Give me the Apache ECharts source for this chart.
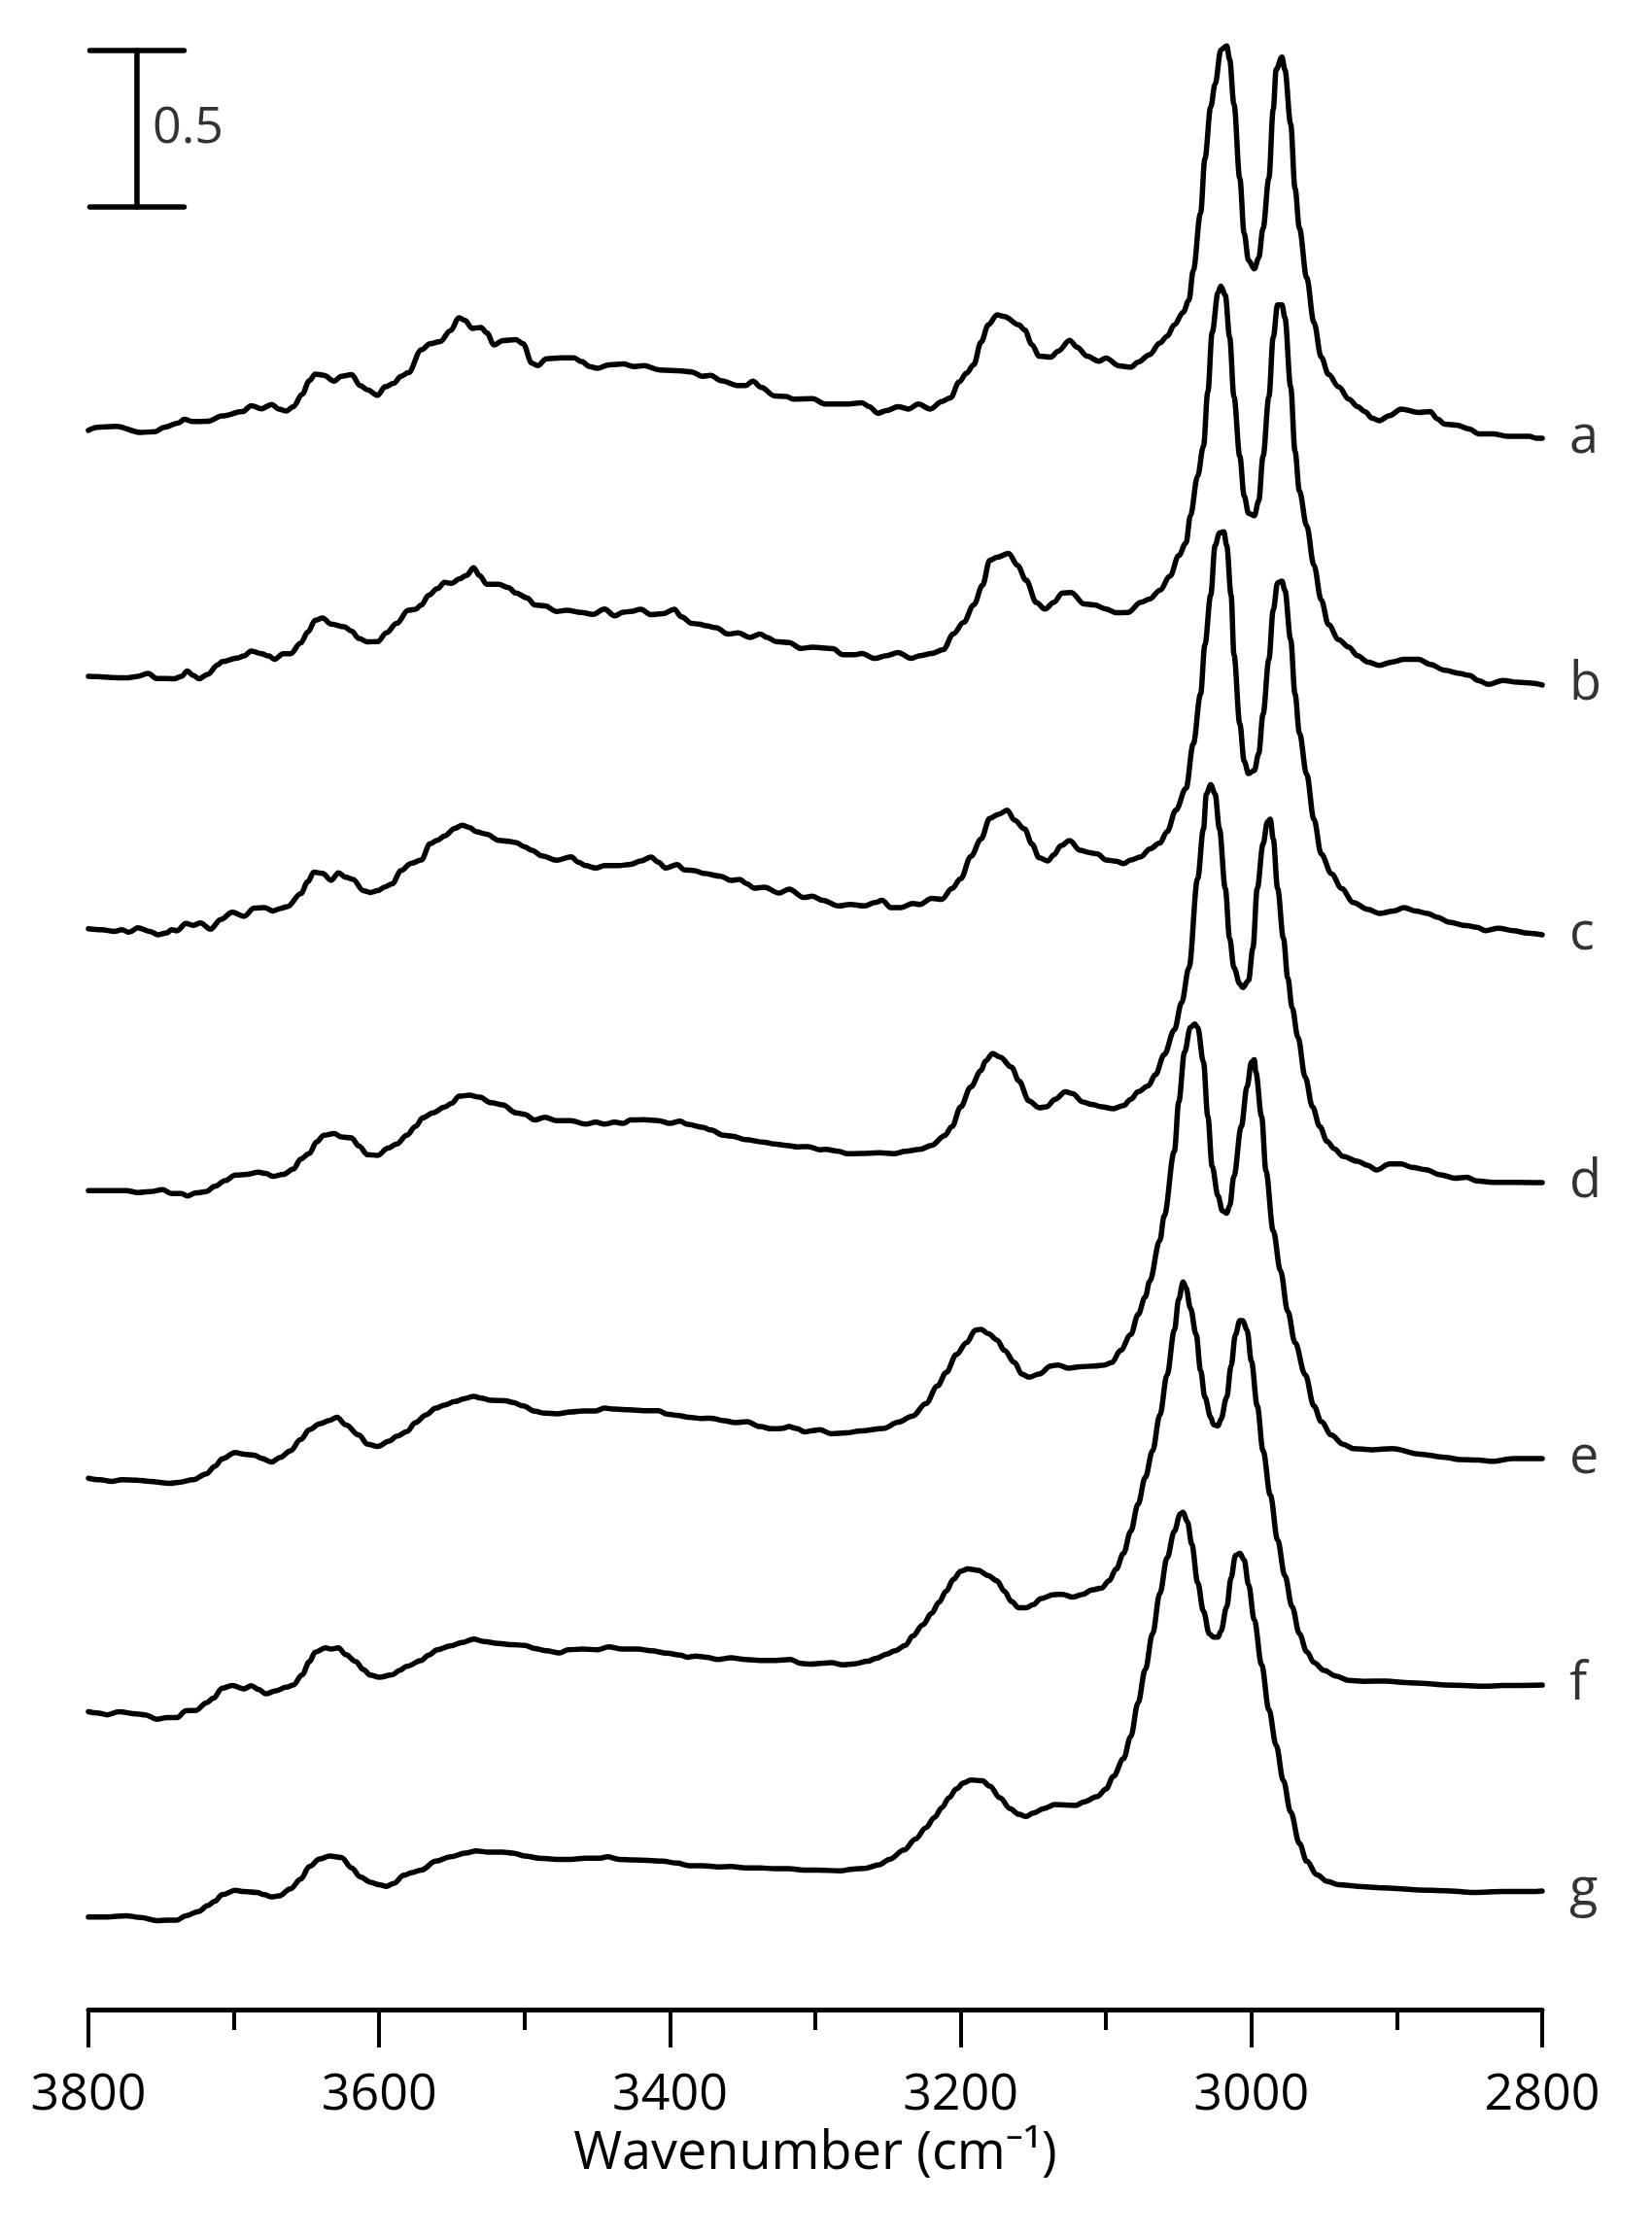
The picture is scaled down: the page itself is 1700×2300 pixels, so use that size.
<!DOCTYPE html>
<html>
<head>
<meta charset="utf-8">
<script src="https://cdn.jsdelivr.net/npm/echarts@6/dist/echarts.min.js"></script>
<style>
  html, body { margin: 0; padding: 0; background: #fff; }
  #chart { width: 1700px; height: 2300px; }
</style>
</head>
<body>
<div id="chart"></div>
<script>
// ---- data: wavenumber (cm-1), absorbance relative to each trace's 2800 cm-1 baseline ----
const seriesNames = ['a', 'b', 'c', 'd', 'e', 'f', 'g'];
const offsets = [5.022, 4.233, 3.435, 2.643, 1.761, 1.037, 0.379];

const specA = [[3800,.025],[3794,.035],[3781,.038],[3764,.018],[3754,.021],[3748,.035],[3738,.049],[3734,.060],[3728,.053],[3718,.054],[3708,.071],[3694,.085],[3688,.104],[3681,.094],[3674,.108],[3669,.093],[3664,.087],[3659,.101],[3653,.140],[3648,.184],[3644,.205],[3638,.201],[3631,.182],[3626,.198],[3619,.203],[3613,.168],[3608,.154],[3601,.137],[3596,.164],[3590,.175],[3585,.198],[3580,.209],[3571,.282],[3565,.302],[3558,.309],[3551,.344],[3545,.385],[3541,.376],[3536,.351],[3530,.354],[3526,.337],[3521,.298],[3515,.312],[3506,.315],[3501,.302],[3495,.240],[3491,.232],[3485,.254],[3475,.257],[3466,.257],[3461,.245],[3455,.229],[3450,.223],[3442,.234],[3432,.237],[3425,.229],[3418,.232],[3407,.218],[3392,.215],[3385,.212],[3378,.198],[3372,.201],[3365,.184],[3353,.168],[3348,.168],[3343,.182],[3337,.162],[3328,.135],[3320,.133],[3315,.125],[3302,.126],
[3293,.109],[3279,.109],[3268,.113],[3263,.101],[3257,.080],[3251,.088],[3243,.101],[3236,.093],[3229,.109],[3221,.093],[3213,.117],[3207,.129],[3201,.180],[3196,.208],[3191,.235],[3186,.307],[3181,.362],[3175,.394],[3170,.389],[3160,.362],[3156,.346],[3151,.299],[3146,.262],[3138,.259],[3133,.278],[3125,.313],[3120,.291],[3113,.262],[3105,.246],[3100,.256],[3091,.231],[3083,.227],[3078,.243],[3070,.267],[3063,.304],[3058,.326],[3053,.362],[3047,.402],[3043,.441],[3040,.536],[3035,.719],[3032,.893],[3028,1.059],[3025,1.131],[3021,1.241],[3017,1.254],[3015,1.210],[3012,1.067],[3008,.830],[3005,.655],[3002,.568],[2998,.541],[2995,.576],[2992,.671],[2988,.830],[2985,1.051],[2983,1.178],[2979,1.218],[2977,1.178],[2973,1.004],[2970,.798],[2967,.671],[2962,.513],[2957,.370],[2952,.259],[2947,.204],[2940,.164],[2933,.125],[2927,.101],[2922,.085],[2917,.064],[2912,.056],[2905,.072],[2897,.093],[2885,.082],[2877,.085],[2872,.061],[2867,.045],[2859,.042],[2850,.029],[2844,.014],[2834,.014],[2824,.006],[2809,.006],[2804,0],[2800,0]];

const specB = [[3800,.028],[3794,.027],[3784,.024],[3774,.023],[3767,.027],[3759,.037],[3753,.021],[3741,.020],[3736,.028],[3732,.045],[3728,.031],[3724,.020],[3718,.034],[3711,.064],[3708,.075],[3698,.086],[3693,.093],[3688,.109],[3681,.100],[3676,.093],[3672,.082],[3666,.100],[3661,.100],[3654,.134],[3649,.170],[3644,.207],[3639,.214],[3633,.195],[3624,.186],[3619,.172],[3614,.149],[3608,.138],[3601,.139],[3595,.167],[3588,.197],[3580,.239],[3575,.242],[3571,.256],[3566,.287],[3560,.308],[3555,.328],[3550,.325],[3545,.339],[3540,.350],[3535,.375],[3531,.350],[3526,.322],[3518,.322],[3511,.311],[3506,.294],[3498,.278],[3493,.256],[3486,.253],[3478,.235],[3471,.239],[3461,.232],[3453,.226],[3445,.243],[3438,.221],[3432,.233],[3427,.235],[3420,.242],[3413,.225],[3405,.228],[3397,.242],[3392,.218],[3385,.197],[3380,.195],[3375,.189],[3368,.183],[3360,.163],[3353,.167],[3345,.152],[3338,.163],[3333,.152],[3327,.139],[3318,.136],[3310,.117],[3302,.121],
[3288,.116],[3281,.097],[3273,.097],[3268,.101],[3259,.085],[3251,.094],[3243,.104],[3234,.085],[3228,.094],[3220,.101],[3212,.113],[3205,.164],[3198,.200],[3191,.256],[3185,.319],[3180,.399],[3175,.408],[3167,.421],[3161,.383],[3155,.335],[3148,.264],[3142,.243],[3136,.264],[3130,.294],[3124,.296],[3115,.259],[3108,.256],[3100,.243],[3093,.231],[3085,.232],[3076,.265],[3070,.275],[3063,.303],[3056,.348],[3050,.414],[3045,.454],[3042,.541],[3037,.668],[3033,.763],[3030,.937],[3027,1.127],[3023,1.254],[3021,1.275],[3018,1.246],[3015,1.112],[3012,.921],[3008,.731],[3005,.605],[3002,.549],[2998,.541],[2995,.589],[2992,.731],[2988,.921],[2985,1.112],[2982,1.215],[2979,1.215],[2977,1.175],[2973,.953],[2970,.747],[2967,.620],[2962,.509],[2957,.383],[2952,.272],[2947,.193],[2940,.145],[2933,.121],[2927,.094],[2920,.074],[2912,.063],[2903,.074],[2895,.082],[2885,.082],[2877,.066],[2867,.047],[2857,.037],[2850,.031],[2844,.015],[2837,.002],[2827,.015],[2817,.009],[2807,.006],[2800,0]];

const specC = [[3800,.019],[3791,.016],[3782,.011],[3777,.016],[3772,.008],[3766,.022],[3758,.011],[3752,.000],[3746,.006],[3743,.016],[3739,.013],[3733,.036],[3728,.030],[3723,.038],[3716,.018],[3709,.049],[3701,.072],[3693,.059],[3686,.085],[3679,.087],[3673,.076],[3668,.084],[3663,.090],[3654,.131],[3649,.170],[3645,.200],[3639,.196],[3633,.174],[3628,.198],[3623,.184],[3618,.177],[3611,.141],[3606,.135],[3601,.141],[3596,.153],[3591,.163],[3585,.205],[3578,.228],[3571,.239],[3565,.291],[3560,.302],[3555,.316],[3548,.340],[3543,.350],[3538,.343],[3533,.329],[3526,.321],[3518,.302],[3511,.299],[3506,.295],[3500,.281],[3495,.270],[3488,.252],[3478,.238],[3468,.249],[3463,.232],[3458,.221],[3451,.213],[3445,.221],[3435,.221],[3427,.225],[3420,.236],[3413,.248],[3408,.232],[3403,.213],[3395,.224],[3390,.207],[3383,.205],[3377,.196],[3365,.187],[3358,.174],[3352,.177],[3347,.163],[3342,.149],[3335,.152],[3325,.133],[3318,.146],[3308,.119],[3302,.123],[3295,.110],
[3284,.092],[3276,.097],[3266,.092],[3259,.103],[3254,.110],[3248,.087],[3241,.087],[3233,.100],[3228,.097],[3220,.116],[3213,.113],[3206,.148],[3200,.179],[3193,.250],[3186,.306],[3180,.372],[3174,.385],[3168,.398],[3163,.366],[3156,.338],[3151,.290],[3146,.246],[3140,.236],[3136,.255],[3131,.285],[3125,.301],[3118,.270],[3111,.262],[3106,.258],[3100,.239],[3093,.235],[3088,.227],[3083,.239],[3076,.249],[3070,.274],[3063,.293],[3058,.330],[3052,.398],[3045,.468],[3040,.610],[3035,.769],[3032,.927],[3028,1.086],[3025,1.244],[3022,1.284],[3019,1.288],[3017,1.244],[3014,1.086],[3012,.895],[3008,.674],[3005,.555],[3002,.515],[2998,.525],[2995,.579],[2992,.705],[2988,.880],[2985,1.038],[2982,1.125],[2979,1.130],[2977,1.101],[2973,.943],[2970,.769],[2967,.645],[2962,.512],[2957,.369],[2952,.258],[2945,.195],[2938,.148],[2930,.103],[2920,.081],[2912,.068],[2902,.076],[2895,.087],[2887,.076],[2879,.068],[2872,.056],[2864,.040],[2852,.029],[2845,.024],[2839,.013],[2830,.021],[2820,.013],[2810,.005],[2800,0]];

const specD = [[3800,-.026],[3787,-.026],[3774,-.026],[3766,-.032],[3758,-.029],[3749,-.023],[3743,-.035],[3736,-.035],[3732,-.043],[3726,-.033],[3719,-.029],[3713,-.012],[3706,.006],[3699,.024],[3691,.026],[3683,.033],[3678,.029],[3673,.020],[3666,.026],[3659,.043],[3654,.075],[3648,.093],[3643,.130],[3638,.151],[3631,.157],[3626,.146],[3619,.143],[3614,.117],[3608,.089],[3601,.087],[3594,.110],[3588,.123],[3581,.151],[3575,.179],[3570,.207],[3563,.223],[3555,.241],[3550,.254],[3545,.276],[3538,.279],[3531,.273],[3523,.255],[3515,.248],[3506,.223],[3500,.218],[3493,.200],[3486,.209],[3478,.198],[3468,.198],[3458,.187],[3451,.193],[3445,.187],[3438,.193],[3432,.189],[3427,.200],[3418,.201],[3408,.198],[3400,.189],[3393,.196],[3388,.186],[3377,.176],[3372,.168],[3363,.151],[3357,.148],[3348,.137],[3335,.129],[3328,.123],[3320,.119],[3312,.114],[3305,.115],[3297,.105],
[3293,.106],[3284,.100],[3278,.092],[3269,.093],[3256,.095],[3246,.092],[3238,.100],[3228,.106],[3220,.119],[3211,.150],[3206,.179],[3200,.242],[3193,.306],[3186,.358],[3183,.388],[3178,.412],[3173,.401],[3165,.369],[3160,.325],[3153,.261],[3146,.239],[3141,.242],[3135,.266],[3128,.290],[3123,.284],[3116,.258],[3110,.250],[3103,.242],[3095,.236],[3088,.246],[3083,.266],[3078,.290],[3071,.309],[3066,.345],[3060,.409],[3053,.488],[3048,.575],[3043,.686],[3037,.971],[3033,1.130],[3031,1.241],[3028,1.272],[3025,1.241],[3022,1.130],[3018,.940],[3015,.781],[3012,.686],[3008,.635],[3006,.623],[3002,.646],[2999,.749],[2996,.940],[2992,1.082],[2989,1.153],[2987,1.161],[2985,1.098],[2982,.940],[2978,.781],[2975,.654],[2972,.559],[2968,.464],[2963,.337],[2958,.242],[2953,.179],[2948,.132],[2943,.108],[2937,.084],[2927,.068],[2920,.055],[2914,.040],[2905,.060],[2897,.060],[2890,.049],[2880,.041],[2870,.025],[2860,.014],[2852,.017],[2845,.005],[2834,.001],[2817,.001],[2800,0]];

const specE = [[3800,-.063],[3792,-.068],[3784,-.073],[3777,-.068],[3767,-.069],[3758,-.073],[3744,-.079],[3738,-.076],[3728,-.068],[3719,-.049],[3713,-.025],[3708,-.001],[3699,.019],[3693,.014],[3686,.011],[3681,.001],[3674,-.011],[3668,.004],[3661,.025],[3654,.061],[3648,.092],[3641,.111],[3634,.122],[3629,.132],[3623,.108],[3614,.075],[3608,.046],[3601,.039],[3593,.056],[3588,.071],[3581,.086],[3575,.115],[3568,.139],[3561,.161],[3555,.171],[3548,.182],[3541,.192],[3535,.199],[3530,.193],[3523,.186],[3513,.185],[3508,.179],[3501,.168],[3493,.151],[3486,.145],[3478,.143],[3468,.149],[3460,.152],[3451,.152],[3445,.161],[3438,.158],[3428,.156],[3418,.153],[3408,.153],[3402,.142],[3395,.138],[3387,.132],[3378,.128],[3372,.129],[3363,.121],[3355,.115],[3347,.118],[3338,.102],[3330,.095],[3323,.096],[3318,.102],[3313,.096],[3307,.085],[3302,.089],[3297,.092],
[3289,.079],[3279,.082],[3269,.088],[3253,.096],[3243,.116],[3233,.136],[3224,.175],[3216,.232],[3210,.275],[3203,.332],[3196,.370],[3190,.410],[3186,.413],[3181,.399],[3175,.379],[3170,.346],[3163,.307],[3158,.270],[3153,.260],[3146,.270],[3138,.296],[3133,.299],[3126,.289],[3118,.293],[3108,.296],[3101,.299],[3096,.307],[3090,.346],[3083,.396],[3078,.460],[3073,.517],[3070,.567],[3063,.697],[3060,.776],[3053,.982],[3050,1.140],[3046,1.299],[3042,1.378],[3039,1.389],[3037,1.378],[3033,1.267],[3030,1.093],[3027,.934],[3023,.839],[3020,.792],[3017,.784],[3015,.807],[3012,.903],[3007,1.061],[3003,1.188],[3000,1.267],[2998,1.275],[2997,1.235],[2993,1.093],[2990,.918],[2985,.728],[2980,.600],[2975,.470],[2970,.370],[2963,.268],[2957,.168],[2952,.118],[2945,.075],[2937,.046],[2930,.032],[2917,.028],[2903,.032],[2884,.014],[2867,.004],[2857,-.003],[2844,-.005],[2834,-.009],[2820,0],[2800,0]];

const specF = [[3800,-.085],[3794,-.089],[3787,-.095],[3779,-.085],[3767,-.092],[3761,-.095],[3753,-.109],[3746,-.104],[3739,-.104],[3733,-.082],[3726,-.081],[3719,-.057],[3714,-.042],[3708,-.010],[3701,-.001],[3693,-.012],[3688,-.002],[3683,-.014],[3678,-.028],[3671,-.018],[3664,-.007],[3659,.000],[3653,.033],[3648,.075],[3644,.105],[3637,.119],[3633,.115],[3628,.119],[3623,.097],[3616,.075],[3611,.050],[3606,.032],[3600,.025],[3591,.033],[3586,.047],[3581,.060],[3571,.079],[3566,.096],[3560,.113],[3551,.125],[3543,.136],[3535,.147],[3528,.139],[3518,.133],[3508,.129],[3500,.127],[3493,.117],[3485,.110],[3476,.103],[3470,.113],[3460,.115],[3450,.113],[3442,.122],[3433,.115],[3422,.115],[3413,.110],[3402,.102],[3393,.096],[3388,.089],[3382,.093],[3375,.089],[3367,.082],[3358,.087],[3348,.082],[3338,.079],[3327,.079],[3317,.082],[3310,.069],[3303,.067],[3294,.070],
[3289,.072],[3281,.065],[3273,.068],[3264,.076],[3258,.086],[3251,.099],[3245,.110],[3238,.127],[3233,.157],[3226,.193],[3220,.229],[3215,.264],[3210,.300],[3205,.338],[3200,.364],[3195,.371],[3188,.367],[3181,.350],[3175,.333],[3170,.300],[3165,.267],[3160,.247],[3155,.247],[3150,.257],[3145,.276],[3136,.289],[3130,.290],[3123,.281],[3116,.290],[3110,.304],[3103,.310],[3098,.333],[3093,.371],[3088,.421],[3083,.492],[3078,.578],[3073,.664],[3068,.749],[3063,.863],[3058,.992],[3053,1.134],[3050,1.234],[3047,1.288],[3045,1.270],[3042,1.205],[3038,1.120],[3035,1.006],[3032,.920],[3028,.856],[3026,.832],[3023,.828],[3021,.849],[3017,.920],[3014,1.020],[3011,1.120],[3008,1.165],[3006,1.165],[3003,1.134],[3000,1.034],[2996,.892],[2992,.749],[2987,.607],[2982,.464],[2977,.350],[2972,.250],[2967,.164],[2962,.107],[2957,.072],[2950,.047],[2942,.029],[2933,.015],[2923,.012],[2907,.013],[2894,.008],[2880,.005],[2867,0],[2854,-.001],[2840,-.004],[2827,-.001],[2814,-.001],[2800,0]];

const specG = [[3800,-.083],[3787,-.083],[3774,-.079],[3764,-.085],[3753,-.095],[3746,-.093],[3739,-.093],[3733,-.079],[3724,-.065],[3718,-.047],[3713,-.033],[3708,-.012],[3699,.002],[3693,-.002],[3684,-.005],[3679,-.012],[3674,-.019],[3669,-.016],[3661,.007],[3654,.038],[3648,.078],[3641,.102],[3634,.112],[3626,.107],[3619,.074],[3613,.045],[3606,.028],[3600,.020],[3595,.015],[3590,.024],[3583,.050],[3578,.058],[3571,.067],[3561,.095],[3551,.109],[3541,.121],[3533,.128],[3525,.124],[3515,.124],[3508,.121],[3500,.112],[3490,.105],[3478,.101],[3468,.101],[3458,.105],[3448,.105],[3443,.109],[3435,.101],[3425,.099],[3415,.098],[3405,.095],[3395,.089],[3387,.081],[3377,.081],[3367,.077],[3358,.078],[3348,.074],[3338,.074],[3328,.071],[3318,.071],[3308,.067],[3298,.067],
[3283,.064],[3274,.070],[3266,.072],[3256,.084],[3249,.101],[3239,.131],[3231,.166],[3224,.202],[3218,.235],[3213,.266],[3208,.298],[3203,.326],[3198,.345],[3193,.355],[3185,.352],[3180,.335],[3173,.298],[3166,.263],[3160,.245],[3155,.238],[3150,.249],[3143,.263],[3135,.276],[3121,.273],[3115,.285],[3106,.302],[3100,.326],[3095,.366],[3088,.423],[3083,.494],[3078,.601],[3073,.708],[3068,.822],[3063,.951],[3058,1.065],[3053,1.150],[3049,1.205],[3047,1.210],[3044,1.179],[3041,1.108],[3037,.986],[3033,.894],[3029,.822],[3026,.811],[3023,.811],[3021,.830],[3017,.908],[3014,1.001],[3011,1.072],[3008,1.079],[3005,1.058],[3002,.979],[2998,.865],[2993,.723],[2988,.580],[2983,.466],[2978,.352],[2973,.252],[2967,.152],[2962,.095],[2955,.052],[2948,.031],[2940,.020],[2927,.015],[2910,.010],[2900,.008],[2884,.003],[2867,.001],[2847,-.005],[2827,-.002],[2807,-.002],[2800,0]];

const spectra = [specA, specB, specC, specD, specE, specF, specG];

// x-axis ticks (cm-1)
const xMin = 2800, xMax = 3800, labelStep = 200, tickStep = 100;

// scale bar: 0.5 absorbance units
const scaleBarValue = 0.5;
const scaleBarLabel = '0.5';
const scaleBarWn = 3766.6;
const scaleBarTop = 6.261;
const scaleBarCapHalf = 32.4;

const FONT = '"Open Sans", "Noto Sans", sans-serif';
const LW = 5.5;
const chart = echarts.init(document.getElementById('chart'), null, { renderer: 'canvas' });

const lineSeries = spectra.map((sp, i) => ({
  type: 'line',
  name: seriesNames[i],
  data: sp.map(p => [p[0], p[1] + offsets[i]]),
  showSymbol: false,
  smooth: 0.35,
  smoothMonotone: 'x',
  silent: true,
  lineStyle: { color: '#000', width: LW, cap: 'round', join: 'round' }
}));

// trace letters at the 2800 cm-1 end of each trace
const letterSeries = {
  type: 'scatter',
  silent: true,
  symbolSize: 0,
  data: seriesNames.map((n, i) => ({ value: [xMin, offsets[i]], name: n })),
  label: {
    show: true,
    position: 'right',
    distance: 28,
    formatter: p => p.name,
    color: '#000',
    fontFamily: FONT,
    fontSize: 54
  }
};

const sbBottom = scaleBarTop - scaleBarValue;
const barStyle = { color: '#000', width: LW, cap: 'round' };
const scaleSeries = [
  { type: 'line', data: [[scaleBarWn + scaleBarCapHalf, scaleBarTop], [scaleBarWn - scaleBarCapHalf, scaleBarTop]], showSymbol: false, silent: true, lineStyle: barStyle },
  { type: 'line', data: [[scaleBarWn, scaleBarTop], [scaleBarWn, sbBottom]], showSymbol: false, silent: true, lineStyle: barStyle },
  { type: 'line', data: [[scaleBarWn + scaleBarCapHalf, sbBottom], [scaleBarWn - scaleBarCapHalf, sbBottom]], showSymbol: false, silent: true, lineStyle: barStyle },
  {
    type: 'scatter', data: [[scaleBarWn, (scaleBarTop + sbBottom) / 2]], symbolSize: 0, silent: true,
    label: { show: true, position: 'right', distance: 16, formatter: scaleBarLabel, color: '#000', fontFamily: FONT, fontSize: 52 }
  }
];

chart.setOption({
  animation: false,
  backgroundColor: '#fff',
  grid: { left: 91, right: 113, top: 7.2, bottom: 232, containLabel: false },
  xAxis: {
    type: 'value',
    inverse: true,
    min: xMin,
    max: xMax,
    interval: labelStep,
    name: 'Wavenumber (cm\u207B\u00B9)',
    nameLocation: 'middle',
    nameGap: 122,
    nameTextStyle: { color: '#000', fontFamily: FONT, fontSize: 54 },
    axisLine: { show: true, onZero: false, lineStyle: { color: '#000', width: 5, cap: 'round' } },
    axisTick: { show: true, inside: false, length: 39, lineStyle: { color: '#000', width: 4 } },
    minorTick: { show: true, splitNumber: labelStep / tickStep, length: 21, lineStyle: { color: '#000', width: 4 } },
    axisLabel: { show: true, margin: 62, color: '#000', fontFamily: FONT, fontSize: 52, formatter: v => String(v) },
    splitLine: { show: false },
    minorSplitLine: { show: false }
  },
  yAxis: {
    type: 'value',
    min: 0,
    max: 6.4,
    show: false,
    splitLine: { show: false }
  },
  series: lineSeries.concat([letterSeries]).concat(scaleSeries)
});
</script>
</body>
</html>
